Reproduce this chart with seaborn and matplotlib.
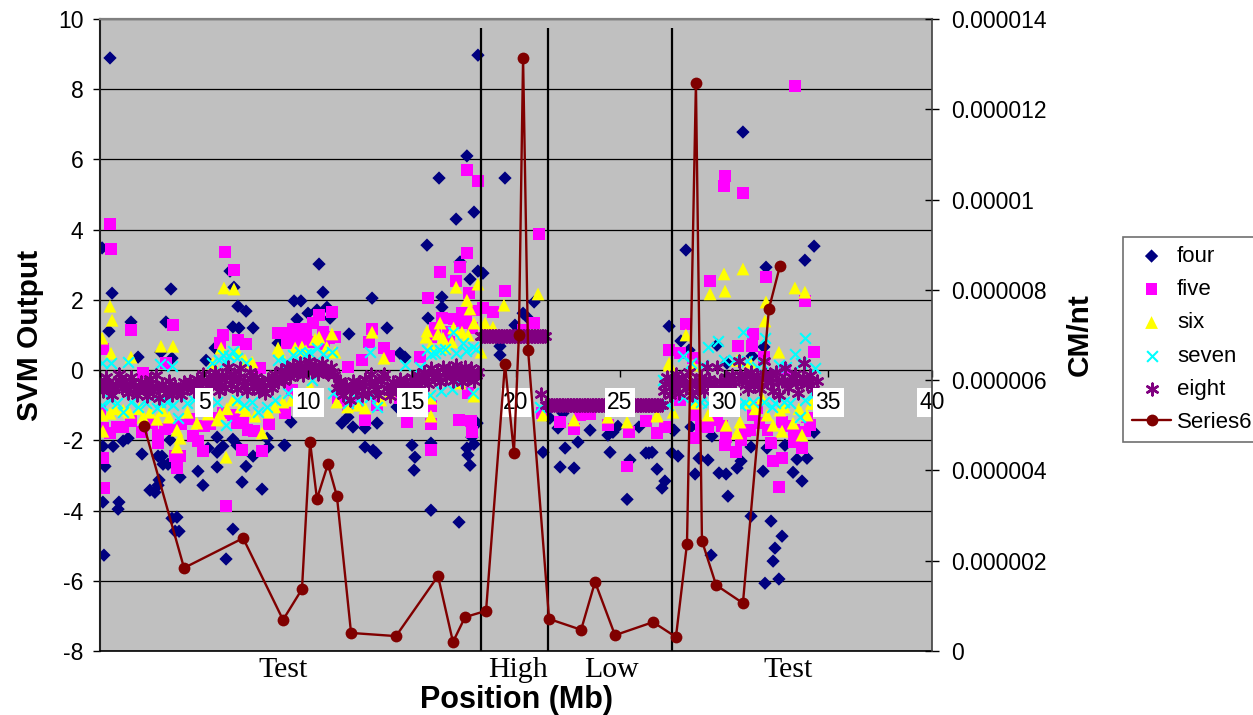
import pandas as pd
import matplotlib
matplotlib.use("Agg")
import matplotlib.pyplot as plt
import seaborn as sns

# VALUES (position Mb, SVM output)
four = [
    (0.48, 8.89), (0.10, 3.48), (0.58, 2.19), (0.43, 1.11), (1.49, 1.37), (1.83, 0.37), (3.41, 2.31),
    (3.17, 1.37), (3.46, 0.34), (2.93, 0.51), (5.10, 0.28), (6.25, 2.82), (6.44, 2.36), (6.63, 1.82),
    (7.02, 1.68), (6.39, 1.23), (6.68, 1.20), (7.36, 1.20), (5.53, 0.63), (8.56, 0.77), (10.53, 3.02),
    (10.72, 2.22), (9.33, 1.97), (9.66, 1.97), (10.0, 1.62), (10.43, 1.71), (10.91, 1.79), (9.47, 1.45),
    (11.06, 1.48), (11.97, 1.03), (13.08, 2.05), (13.80, 1.20), (14.42, 0.48), (14.66, 0.37), (15.72, 3.56),
    (16.44, 2.08), (16.44, 1.79), (15.77, 1.48), (18.17, 2.82), (17.79, 2.59), (18.41, 2.76), (14.28, -1.05),
    (9.18, -1.48), (11.63, -1.51), (11.92, -1.34), (12.16, -1.62), (12.74, -1.65), (13.32, -1.51), (8.89, -2.14),
    (12.74, -2.19), (15.0, -2.14), (15.91, -2.08), (17.98, -2.11), (18.13, -1.51), (16.30, 5.47), (17.64, 6.10),
    (17.12, 4.30), (17.98, 4.50), (17.31, 3.08), (18.17, 8.97), (19.47, 5.47), (17.26, -4.33), (15.91, -3.99),
    (17.69, -2.42), (17.79, -2.71), (17.64, -2.22), (17.88, -1.91), (15.14, -2.48), (15.10, -2.85), (13.13, -2.28),
    (13.27, -2.36), (0.19, -5.27), (0.14, -3.76), (0.91, -3.76), (0.87, -3.96), (0.14, -2.17), (0.63, -2.17),
    (0.24, -2.74), (1.11, -2.02), (1.35, -1.94), (2.02, -2.39), (2.79, -2.45), (2.98, -2.45), (3.03, -2.68),
    (3.27, -2.68), (2.40, -3.42), (2.64, -3.48), (2.84, -3.13), (2.79, -3.28), (3.46, -4.22), (3.70, -4.19),
    (3.61, -4.59), (3.80, -4.59), (3.85, -3.05), (4.71, -2.88), (4.95, -3.28), (5.63, -2.76), (6.39, -4.53),
    (6.06, -5.38), (5.63, -2.34), (5.91, -2.17), (5.63, -1.91), (5.19, -2.22), (6.39, -1.97), (6.59, -2.14),
    (6.83, -3.19), (7.02, -2.74), (7.79, -3.39), (7.36, -2.45), (8.08, -2.19), (8.03, -1.94), (8.85, -2.14),
    (3.37, -1.99), (27.36, 1.25), (20.87, 1.94), (20.34, 1.62), (20.53, 1.51), (19.95, 1.28), (19.23, 0.68),
    (19.23, 0.43), (21.30, -2.34), (22.12, -2.76), (22.79, -2.79), (22.36, -2.22), (22.98, -2.05), (23.56, -1.71),
    (24.52, -2.34), (24.42, -1.85), (24.66, -1.77), (24.90, -1.60), (22.02, -1.65), (21.63, -1.37), (22.26, -1.23),
    (25.48, -2.56), (25.34, -3.68), (26.25, -2.36), (26.39, -2.36), (26.78, -2.82), (27.16, -3.16), (27.02, -3.36),
    (27.5, -2.36), (25.91, -1.62), (27.55, -1.71), (28.17, 3.42), (34.33, 3.53), (33.89, 3.13), (32.02, 2.93),
    (27.93, 0.83), (28.32, 0.57), (29.66, 0.71), (31.92, 0.66), (30.14, 0.20), (31.35, 0.40), (30.91, 6.78),
    (26.54, -2.34), (27.79, -2.45), (27.6, -1.71), (28.41, -1.62), (29.42, -1.88), (28.61, -2.96), (28.80, -2.51),
    (29.23, -2.56), (29.76, -2.93), (30.10, -2.96), (30.19, -3.59), (30.63, -2.79), (30.82, -2.59), (31.30, -2.19),
    (31.88, -2.88), (32.07, -2.22), (31.30, -4.16), (32.26, -4.30), (32.79, -4.73), (32.45, -5.07), (32.36, -5.44),
    (31.97, -6.07), (32.64, -5.95), (29.38, -5.27), (33.32, -2.91), (33.75, -3.16), (33.51, -2.54), (33.99, -2.51),
    (34.33, -1.77), (32.93, -2.14),
]

five = [
    (0.48, 4.16), (0.53, 3.45), (6.01, 3.36), (6.44, 2.85), (1.49, 1.14), (3.51, 1.28), (0.14, 0.6), (5.91, 1.0),
    (6.63, 0.85), (7.02, 0.74), (8.56, 1.05), (8.99, 0.77), (3.17, 0.2), (2.07, -0.09), (5.77, 0.77), (7.69, 0.06),
    (0.14, -2.51), (0.19, -3.36), (6.06, -3.87), (3.70, -2.79), (3.61, -2.45), (3.85, -2.45), (4.95, -2.31),
    (4.71, -2.02), (4.47, -1.88), (2.79, -2.08), (2.79, -1.85), (3.13, -1.68), (3.46, -1.62), (2.02, -1.77),
    (1.11, -1.62), (0.82, -1.62), (0.14, -1.65), (0.48, -1.79), (0.0, -1.14), (6.83, -2.28), (7.79, -2.31),
    (8.13, -1.54), (7.4, -1.74), (8.89, -1.23), (6.88, -1.42), (6.39, -1.28), (5.29, -1.54), (5.91, -1.23),
    (17.64, 3.33), (17.31, 2.93), (16.35, 2.79), (17.12, 2.54), (17.74, 2.19), (15.77, 2.05), (10.53, 1.57),
    (11.15, 1.65), (10.24, 1.34), (10.72, 1.08), (9.28, 1.17), (9.71, 1.17), (9.13, 0.94), (8.75, 1.05),
    (13.08, 1.17), (12.93, 0.8), (13.65, 0.63), (13.89, 0.4), (12.6, 0.28), (11.92, 0.09), (11.3, 0.94),
    (16.44, 1.48), (17.4, 1.62), (17.4, 1.34), (15.38, 0.37), (12.74, -1.42), (14.76, -1.48), (15.91, -1.03),
    (15.91, -1.54), (17.26, -1.42), (17.84, -1.45), (17.88, -1.77), (15.91, -2.28), (8.89, -1.23), (9.23, -0.57),
    (11.44, -0.8), (11.92, -1.0), (12.4, -0.94), (13.32, -1.0), (14.42, -0.8), (17.69, -0.66), (17.64, 5.7),
    (18.17, 5.38), (21.1, 3.87), (19.47, 2.25), (18.89, 1.65), (18.41, 1.77), (20.87, 1.34), (20.34, 1.14),
    (22.12, -1.48), (22.79, -1.68), (24.42, -1.57), (25.43, -1.77), (26.25, -1.45), (26.78, -1.79), (27.16, -1.62),
    (25.34, -2.74), (23.08, -1.28), (23.56, -1.25), (21.25, -1.23), (27.36, 0.57), (30.05, 5.53), (30.0, 5.24),
    (30.91, 5.04), (29.33, 2.54), (32.02, 2.65), (33.89, 1.97), (28.17, 1.31), (31.39, 1.03), (30.67, 0.68),
    (31.35, 0.68), (34.33, 0.51), (27.88, 0.48), (28.51, 0.34), (31.92, 0.37), (33.41, 8.09), (28.61, -1.94),
    (27.88, -0.85), (28.61, -1.28), (29.23, -1.62), (29.66, -1.42), (30.1, -1.91), (30.05, -2.14), (30.58, -2.34),
    (30.82, -1.99), (31.25, -1.71), (31.39, -1.28), (31.59, -1.08), (32.26, -2.08), (32.36, -2.59), (32.79, -2.51),
    (32.64, -3.33), (33.37, -2.05), (33.75, -2.22), (33.37, -1.71), (32.79, -1.48), (32.93, 0.0), (34.13, -1.57),
    # denser stretches next to the band
    (1.5, -1.45), (2.5, -1.5), (3.9, -1.55), (4.3, -1.4), (5.0, -1.6), (5.5, -1.35), (6.6, -1.5), (7.1, -1.7),
    (9.4, 0.85), (9.9, 1.05), (10.1, 0.8), (10.8, 0.75), (9.6, 0.75), (11.0, 0.9), (15.9, 0.95), (16.1, 1.2),
    (16.7, 1.1), (17.0, 1.45), (17.6, 1.5), (17.9, 1.2), (16.8, 0.8), (18.0, 1.7), (28.9, -1.6), (29.9, -1.6),
    (31.0, -1.75), (31.7, -1.5), (32.1, -1.7), (33.1, -1.6), (33.9, -1.75), (34.0, -1.35),
]

six = [
    (0.48, 1.82), (0.58, 1.42), (0.1, 0.91), (0.53, 0.48), (2.93, 0.68), (3.51, 0.68), (1.49, 0.37), (5.96, 2.34),
    (6.44, 2.31), (5.82, 0.63), (8.56, 0.63), (6.97, 0.28), (7.31, 0.23), (5.43, 0.2), (6.63, 0.51), (0.14, -1.74),
    (0.1, -1.28), (0.48, -1.23), (1.11, -1.14), (2.07, -1.34), (2.74, -1.4), (3.7, -1.71), (3.85, -1.94),
    (3.7, -2.19), (4.66, -1.51), (5.63, -1.42), (5.77, -1.25), (6.06, -2.48), (6.78, -1.05), (7.45, -1.31),
    (7.79, -1.79), (8.08, -1.2), (3.32, -1.34), (6.39, -0.85), (17.12, 2.36), (17.64, 1.99), (17.79, 1.74),
    (18.17, 2.45), (17.98, 1.34), (16.35, 1.34), (15.72, 1.11), (15.67, 0.94), (16.25, 1.03), (16.49, 0.91),
    (17.4, 1.08), (16.92, 0.8), (11.15, 1.03), (10.53, 0.94), (10.34, 0.88), (9.71, 0.66), (9.38, 0.63),
    (13.08, 1.08), (13.65, 0.34), (11.3, 0.51), (10.1, -0.46), (8.8, -0.91), (11.39, -0.91), (12.74, -1.08),
    (15.91, -1.31), (13.94, -0.66), (15.91, -0.8), (17.31, -0.37), (17.98, -0.74), (8.65, 0.51), (19.42, 1.85),
    (18.51, 1.34), (18.89, 1.22), (27.36, 0.14), (21.3, -1.28), (22.79, -1.42), (24.42, -1.34), (25.34, -1.48),
    (26.78, -1.31), (27.55, -1.2), (18.32, 0.51), (21.06, 2.17), (30.0, 2.74), (29.33, 2.17), (30.05, 2.25),
    (30.91, 2.88), (32.02, 1.94), (31.97, 1.4), (33.41, 2.34), (33.89, 2.22), (28.17, 1.0), (32.64, 0.51),
    (27.36, 0.2), (30.63, 0.28), (31.25, 0.23), (28.51, 0.14), (26.78, -1.28), (28.61, -0.94), (29.23, -1.28),
    (30.1, -1.57), (30.63, -1.79), (30.77, -1.48), (31.25, -0.94), (32.07, -1.28), (32.36, -1.57), (32.79, -1.74),
    (32.69, -1.14), (33.32, -1.51), (33.75, -1.85), (33.99, -1.28), (31.83, -0.8),
    # denser stretches next to the band
    (0.7, -1.1), (1.4, -1.2), (1.9, -1.1), (2.4, -1.2), (3.0, -1.15), (4.2, -1.2), (4.9, -1.1), (5.2, -1.25),
    (6.1, -1.1), (7.0, -1.15), (8.4, -1.05), (9.2, -0.85), (11.9, -1.05), (12.4, -1.0), (13.5, -0.85), (14.6, -0.8),
    (15.3, -0.8), (16.6, 0.65), (17.0, 1.2), (17.7, 1.0), (15.9, 0.7), (10.9, 0.65), (9.9, 0.55), (29.6, -1.1),
    (30.4, -1.15), (31.5, -1.1), (32.9, -1.05), (33.6, -1.1), (34.2, -0.95),
]

seven = [
    (0.1, 0.2), (0.53, 0.2), (1.35, 0.23), (2.88, 0.17), (3.46, 0.11), (5.91, 0.43), (6.39, 0.54), (6.59, 0.34),
    (6.01, 0.23), (8.56, 0.28), (8.99, 0.23), (0.48, -0.85), (1.11, -1.2), (1.83, -1.05), (2.74, -1.08),
    (3.22, -0.91), (3.75, -1.37), (4.18, -0.94), (5.63, -0.91), (6.06, -1.57), (7.6, -1.2), (8.03, -1.05),
    (0.1, -1.0), (6.59, -0.85), (10.43, 0.63), (9.62, 0.51), (9.28, 0.43), (11.15, 0.51), (12.98, 0.51),
    (14.66, 0.14), (15.72, 0.57), (16.35, 0.57), (16.97, 1.08), (17.93, 0.66), (8.89, 0.2), (17.45, 0.77),
    (15.38, 0.09), (11.92, -0.94), (9.04, -0.66), (11.2, -0.66), (12.98, -0.77), (13.32, -1.05), (14.33, -0.57),
    (15.87, -0.71), (17.93, -0.66), (10.19, -0.28), (17.21, -0.37), (21.15, -1.05), (27.31, -1.0), (27.07, -0.28),
    (30.91, 1.08), (29.71, 0.83), (29.23, 0.66), (31.97, 0.91), (33.89, 0.91), (33.41, 0.46), (30.0, 0.28),
    (28.03, 0.4), (31.83, 0.2), (32.64, 0.14), (31.59, 0.09), (34.38, 0.06), (27.16, -0.37), (28.03, -0.77),
    (28.61, -0.85), (29.23, -0.94), (30.14, -1.05), (30.77, -1.0), (31.39, -0.91), (32.31, -1.05), (33.17, -0.94),
    (33.65, -1.34), (34.28, -0.71), (32.45, -0.94),
    # denser stretches next to the band
    (0.8, -0.95), (1.5, -0.9), (2.2, -0.95), (2.9, -0.9), (3.5, -1.0), (4.5, -0.85), (5.0, -0.9), (6.9, -1.0),
    (7.3, -0.9), (8.4, -0.85), (5.4, 0.2), (5.7, 0.3), (6.2, 0.4), (7.0, 0.2), (9.9, 0.45), (10.1, 0.5), (10.7, 0.45),
    (15.9, 0.45), (16.1, 0.5), (16.6, 0.6), (17.1, 0.5), (17.6, 0.55), (18.1, 0.6), (14.8, -0.7), (16.4, -0.6),
    (16.9, -0.55), (12.4, -0.85), (28.4, 0.2), (29.0, 0.15), (30.5, 0.3), (31.1, 0.25), (33.0, 0.1), (33.7, 0.2),
    (28.9, -0.9), (29.7, -1.0), (31.0, -0.95), (31.9, -0.9), (32.9, -0.9), (33.9, -0.85),
]

eight = [
    (0.0, -0.3), (0.15, -0.6), (0.3, -0.2), (0.45, -0.5), (0.6, -0.7), (0.75, -0.4), (0.9, -0.1), (1.05, -0.5),
    (1.2, -0.3), (1.35, -0.65), (1.5, -0.2), (1.65, -0.45), (1.8, -0.7), (1.95, -0.35), (2.1, -0.5), (2.25, -0.75),
    (2.4, -0.25), (2.55, -0.6), (2.7, -0.15), (2.85, -0.8), (3.0, -0.4), (3.15, -0.65), (3.3, -0.3), (3.45, -0.7),
    (3.6, -0.45), (3.75, -0.55), (3.9, -0.7), (4.05, -0.35), (4.2, -0.5), (4.35, -0.3), (4.5, -0.6), (4.65, -0.25),
    (4.8, -0.45), (4.95, -0.1), (5.1, -0.55), (5.25, -0.2), (5.4, -0.4), (5.55, -0.05), (5.7, -0.6), (5.85, -0.15),
    (6.0, -0.5), (6.15, 0.1), (6.3, -0.4), (6.45, -0.1), (6.6, -0.55), (6.75, 0.05), (6.9, -0.3), (7.05, -0.6),
    (7.2, -0.05), (7.35, -0.45), (7.5, -0.2), (7.65, -0.6), (7.8, -0.35), (7.95, -0.65), (8.1, -0.25), (8.25, -0.5),
    (8.4, -0.1), (8.55, -0.35), (8.7, 0.0), (8.85, -0.3), (9.0, 0.1), (9.15, -0.2), (9.3, 0.15), (9.45, -0.1),
    (9.6, 0.2), (9.75, -0.15), (9.9, 0.1), (10.05, 0.25), (10.2, -0.05), (10.35, 0.15), (10.5, -0.1), (10.65, 0.2),
    (10.8, 0.05), (10.95, -0.1), (11.1, 0.1), (11.25, -0.15), (11.4, -0.5), (11.55, -0.3), (11.7, -0.7), (11.85, -0.45),
    (12.0, -0.85), (12.15, -0.3), (12.3, -0.6), (12.45, -0.35), (12.6, -0.7), (12.75, -0.25), (12.9, -0.65), (13.05, -0.1),
    (13.2, -0.4), (13.35, -0.7), (13.5, -0.3), (13.65, -0.1), (13.8, -0.5), (13.95, -0.75), (14.1, -0.35), (14.25, -0.55),
    (14.4, -0.25), (14.55, -0.6), (14.7, -0.3), (14.85, -0.55), (15.0, -0.2), (15.15, -0.5), (15.3, -0.15), (15.45, -0.35),
    (15.6, -0.05), (15.75, -0.4), (15.9, 0.05), (16.05, -0.2), (16.2, -0.05), (16.35, -0.35), (16.5, 0.1), (16.65, -0.2),
    (16.8, 0.05), (16.95, -0.3), (17.1, 0.15), (17.25, -0.1), (17.4, -0.35), (17.55, 0.1), (17.7, -0.25), (17.85, 0.05),
    (18.0, -0.3), (18.15, -0.05),
    # second pass over the left band, it reads as nearly solid
    (0.08, -0.45), (0.38, -0.35), (0.68, -0.55), (0.98, -0.3), (1.28, -0.5), (1.58, -0.35), (1.88, -0.5), (2.18, -0.4),
    (2.48, -0.45), (2.78, -0.5), (3.08, -0.55), (3.38, -0.5), (3.68, -0.6), (3.98, -0.5), (4.28, -0.4), (4.58, -0.45),
    (4.88, -0.3), (5.18, -0.35), (5.48, -0.2), (5.78, -0.35), (6.08, -0.2), (6.38, -0.25), (6.68, -0.2), (6.98, -0.45),
    (7.28, -0.25), (7.58, -0.4), (7.88, -0.5), (8.18, -0.35), (8.48, -0.2), (8.78, -0.15), (9.08, -0.05), (9.38, 0.0),
    (9.68, 0.05), (9.98, -0.05), (10.28, 0.05), (10.58, 0.05), (10.88, -0.05), (11.18, -0.05), (11.48, -0.4), (11.78, -0.55),
    (12.08, -0.55), (12.38, -0.5), (12.68, -0.45), (12.98, -0.35), (13.28, -0.55), (13.58, -0.2), (13.88, -0.6), (14.18, -0.45),
    (14.48, -0.4), (14.78, -0.45), (15.08, -0.35), (15.38, -0.25), (15.68, -0.2), (15.98, -0.1), (16.28, -0.2), (16.58, -0.05),
    (16.88, -0.15), (17.18, 0.0), (17.48, -0.1), (17.78, -0.1), (18.08, -0.15),
    # high interval
    (18.3, 0.98), (18.38, 0.98), (18.45, 0.98), (18.53, 0.98), (18.6, 0.98), (18.68, 0.98), (18.75, 0.98), (18.83, 0.98),
    (18.9, 0.98), (18.98, 0.98), (19.05, 0.98), (19.13, 0.98), (19.2, 0.98), (19.28, 0.98), (19.35, 0.98), (19.43, 0.98),
    (19.5, 0.98), (19.58, 0.98), (19.65, 0.98), (19.73, 0.98), (19.8, 0.98), (19.88, 0.98), (19.95, 0.98), (20.03, 0.98),
    (20.1, 0.98), (20.18, 0.98), (20.25, 0.98), (20.33, 0.98), (20.4, 0.98), (20.48, 0.98), (20.55, 0.98), (20.63, 0.98),
    (20.7, 0.98), (20.78, 0.98), (20.85, 0.98), (20.93, 0.98), (21.0, 0.98), (21.08, 0.98), (21.15, 0.98), (21.23, 0.98),
    (21.3, 0.98), (21.38, 0.98),
    (21.2, -0.68),
    # low interval
    (21.45, -1.0), (21.53, -1.0), (21.6, -1.0), (21.68, -1.0), (21.75, -1.0), (21.83, -1.0), (21.9, -1.0), (21.98, -1.0),
    (22.05, -1.0), (22.13, -1.0), (22.2, -1.0), (22.28, -1.0), (22.35, -1.0), (22.43, -1.0), (22.5, -1.0), (22.58, -1.0),
    (22.65, -1.0), (22.73, -1.0), (22.8, -1.0), (22.88, -1.0), (22.95, -1.0), (23.03, -1.0), (23.1, -1.0), (23.18, -1.0),
    (23.25, -1.0), (23.33, -1.0), (23.4, -1.0), (23.48, -1.0), (23.55, -1.0), (23.63, -1.0), (23.7, -1.0), (23.78, -1.0),
    (23.85, -1.0), (23.93, -1.0), (24.0, -1.0), (24.08, -1.0), (24.15, -1.0), (24.23, -1.0), (24.3, -1.0), (24.38, -1.0),
    (24.45, -1.0), (24.53, -1.0), (24.6, -1.0), (24.68, -1.0), (24.75, -1.0), (24.83, -1.0), (24.9, -1.0), (24.98, -1.0),
    (25.05, -1.0), (25.13, -1.0), (25.2, -1.0), (25.28, -1.0), (25.35, -1.0), (25.43, -1.0), (25.5, -1.0), (25.58, -1.0),
    (25.65, -1.0), (25.73, -1.0), (25.8, -1.0), (25.88, -1.0), (25.95, -1.0), (26.03, -1.0), (26.1, -1.0), (26.18, -1.0),
    (26.25, -1.0), (26.33, -1.0), (26.4, -1.0), (26.48, -1.0), (26.55, -1.0), (26.63, -1.0), (26.7, -1.0), (26.78, -1.0),
    (26.85, -1.0), (26.93, -1.0), (27.0, -1.0),
    # right test interval
    (27.1, -0.6), (27.25, -0.2), (27.4, -0.7), (27.55, -0.35), (27.7, -0.1), (27.85, -0.65), (28.0, -0.25), (28.15, -0.5),
    (28.3, -0.05), (28.45, -0.7), (28.6, -0.3), (28.75, -0.55), (28.9, -0.2), (29.05, -0.6), (29.2, 0.1), (29.35, -0.35),
    (29.5, -0.6), (29.65, 0.1), (29.8, -0.3), (29.95, -0.55), (30.1, -0.2), (30.25, -0.45), (30.4, -0.15), (30.55, -0.6),
    (30.7, 0.25), (30.85, -0.3), (31.0, -0.1), (31.15, -0.55), (31.3, -0.05), (31.45, -0.4), (31.6, -0.15), (31.75, -0.55),
    (31.9, 0.25), (32.05, -0.35), (32.2, -0.1), (32.35, -0.6), (32.5, -0.05), (32.65, -0.7), (32.8, -0.3), (32.95, 0.05),
    (33.1, -0.5), (33.25, -0.2), (33.4, -0.1), (33.55, -0.65), (33.7, -0.35), (33.85, 0.2), (34.0, -0.4), (34.15, -0.15),
    (34.3, -0.55), (34.45, -0.3),
    (27.18, -0.4), (27.48, -0.45), (27.78, -0.4), (28.08, -0.4), (28.38, -0.35), (28.68, -0.4), (28.98, -0.4), (29.28, -0.25),
    (29.58, -0.4), (29.88, -0.4), (30.18, -0.35), (30.48, -0.35), (30.78, -0.15), (31.08, -0.35), (31.38, -0.25), (31.68, -0.35),
    (31.98, -0.1), (32.28, -0.35), (32.58, -0.35), (32.88, -0.3), (33.18, -0.35), (33.48, -0.35), (33.78, -0.2), (34.08, -0.3),
]

# CM/nt line on the second axis
cm_pos = [2.12, 4.04, 6.88, 8.80, 9.71, 10.10, 10.43, 10.96, 11.39, 12.07, 14.23, 16.25, 16.97, 17.55, 18.56, 19.47, 19.90,
          20.14, 20.34, 20.58, 21.59, 23.13, 23.80, 24.76, 26.59, 27.69, 28.22, 28.65, 28.94, 29.62, 30.91, 32.16, 32.69]
cm_val = [4.98e-6, 1.84e-6, 2.50e-6, 0.69e-6, 1.37e-6, 4.63e-6, 3.37e-6, 4.14e-6, 3.43e-6, 0.40e-6, 0.33e-6, 1.66e-6,
          0.20e-6, 0.75e-6, 0.89e-6, 6.36e-6, 4.39e-6, 7.0e-6, 13.14e-6, 6.67e-6, 0.71e-6, 0.47e-6, 1.53e-6, 0.35e-6,
          0.64e-6, 0.31e-6, 2.37e-6, 12.58e-6, 2.44e-6, 1.46e-6, 1.06e-6, 7.58e-6, 8.53e-6]

x_ticks = [0, 5, 10, 15, 20, 25, 30, 35, 40]
x_tick_labels = ["", "5", "10", "15", "20", "25", "30", "35", "40"]
y_ticks = [-8, -6, -4, -2, 0, 2, 4, 6, 8, 10]
cm_ticks = [0, 2e-6, 4e-6, 6e-6, 8e-6, 1e-5, 1.2e-5, 1.4e-5]
cm_tick_labels = ["0", "0.000002", "0.000004", "0.000006", "0.000008", "0.00001", "0.000012", "0.000014"]
boundaries = [18.32, 21.54, 27.5]
regions = [("Test", 8.8), ("High", 20.1), ("Low", 24.6), ("Test", 33.08)]

sns.set_style("ticks")
plt.rcParams["font.family"] = ["Liberation Sans", "DejaVu Sans"]
plt.rcParams["axes.unicode_minus"] = False
plt.rcParams["text.color"] = "black"
plt.rcParams["axes.labelcolor"] = "black"
plt.rcParams["xtick.color"] = "black"
plt.rcParams["ytick.color"] = "black"

fig = plt.figure(figsize=(12.53, 7.15), dpi=100)
ax = fig.add_axes([100 / 1253, 64 / 715, 832 / 1253, 632 / 715])
ax.set_facecolor("#C0C0C0")

# horizontal lines sit under the markers
for v in y_ticks:
    ax.axhline(v, color="black", lw=0.9, zorder=0.5)

styles = [
    ("four", four, "#000080", "D", 46),
    ("five", five, "#FF00FF", "s", 70),
    ("six", six, "#FFFF00", "^", 85),
    ("seven", seven, "#00FFFF", "x", 60),
]
for name, pts, col, mark, size in styles:
    df = pd.DataFrame(pts, columns=["pos", "svm"])
    if mark == "x":
        sns.scatterplot(data=df, x="pos", y="svm", ax=ax, color=col, marker=mark, s=size, linewidth=1.5, label=name)
    else:
        sns.scatterplot(data=df, x="pos", y="svm", ax=ax, color=col, marker=mark, s=size, linewidth=0,
                        edgecolor="none", label=name)

df8 = pd.DataFrame(eight, columns=["pos", "svm"])
sns.scatterplot(data=df8, x="pos", y="svm", ax=ax, color="#800080", marker=(6, 2, 0), s=70, linewidth=1.8, label="eight")

ax.vlines(boundaries, -8, 9.75, color="black", lw=1.6, zorder=3)

ax.set_xlim(0, 40)
ax.set_ylim(-8, 10)
ax.set_yticks(y_ticks)
ax.tick_params(axis="y", labelsize=16.5, length=5, width=1, pad=7)
ax.xaxis.set_visible(False)
ax.spines["bottom"].set_visible(False)
ax.spines["right"].set_visible(False)
ax.spines["left"].set_linewidth(1.5)
ax.spines["left"].set_color("#202020")
ax.spines["top"].set_color("#808080")
ax.spines["top"].set_linewidth(1.6)
ax.set_ylabel("SVM Output", fontsize=21.5, fontweight="bold", labelpad=10)

# second axis holds the line and the x tick labels, so those stay above the line
ax2 = ax.twinx()
sns.lineplot(x=cm_pos, y=cm_val, ax=ax2, sort=False, estimator=None, color="#800000", lw=1.7, marker="o",
             markersize=8.5, markeredgewidth=0, label="Series6", zorder=2)
ax2.set_ylim(0, 1.4e-5)
ax2.set_yticks(cm_ticks)
ax2.set_yticklabels(cm_tick_labels)
ax2.tick_params(axis="y", labelsize=16.5, direction="inout", length=10, width=1, pad=8.5)
ax2.set_ylabel("CM/nt", fontsize=21.5, fontweight="bold", labelpad=14)
ax2.xaxis.set_visible(True)
ax2.spines["bottom"].set_position(("axes", 8 / 18))
ax2.spines["bottom"].set_visible(False)
ax2.spines["left"].set_visible(False)
ax2.spines["top"].set_visible(False)
ax2.spines["right"].set_color("#404040")
ax2.spines["right"].set_linewidth(1.2)
ax2.set_xticks(x_ticks)
ax2.set_xticklabels(x_tick_labels)
ax2.set_xlim(0, 40)
ax2.set_xlabel("")
ax2.tick_params(axis="x", labelsize=16.5, length=5, width=1, pad=10, bottom=True)
for lab in ax2.get_xticklabels():
    lab.set_bbox(dict(facecolor="white", edgecolor="none", pad=2))

# bottom frame line
ax2.axhline(0, color="black", lw=1.2, clip_on=False)

for name, pos in regions:
    ax.text(pos, -8.55, name, family="Liberation Serif", fontsize=21.5, ha="center", va="center", clip_on=False)
ax.text(20.0, -9.4, "Position (Mb)", fontsize=22, fontweight="bold", ha="center", va="center", clip_on=False)

h1, l1 = ax.get_legend_handles_labels()
h2, l2 = ax2.get_legend_handles_labels()
if ax.get_legend() is not None:
    ax.get_legend().remove()
if ax2.get_legend() is not None:
    ax2.get_legend().remove()
leg = fig.legend(h1 + h2, l1 + l2, loc="upper left", bbox_to_anchor=(1123 / 1253, 478 / 715), borderaxespad=0,
                 fontsize=16, frameon=True, fancybox=False, framealpha=1, edgecolor="#707070", handlelength=1.77,
                 labelspacing=0.55, borderpad=0.4, handletextpad=0.26, labelcolor="black")
leg.get_frame().set_linewidth(1.2)

plt.savefig("out.png", dpi=100)
plt.close()
